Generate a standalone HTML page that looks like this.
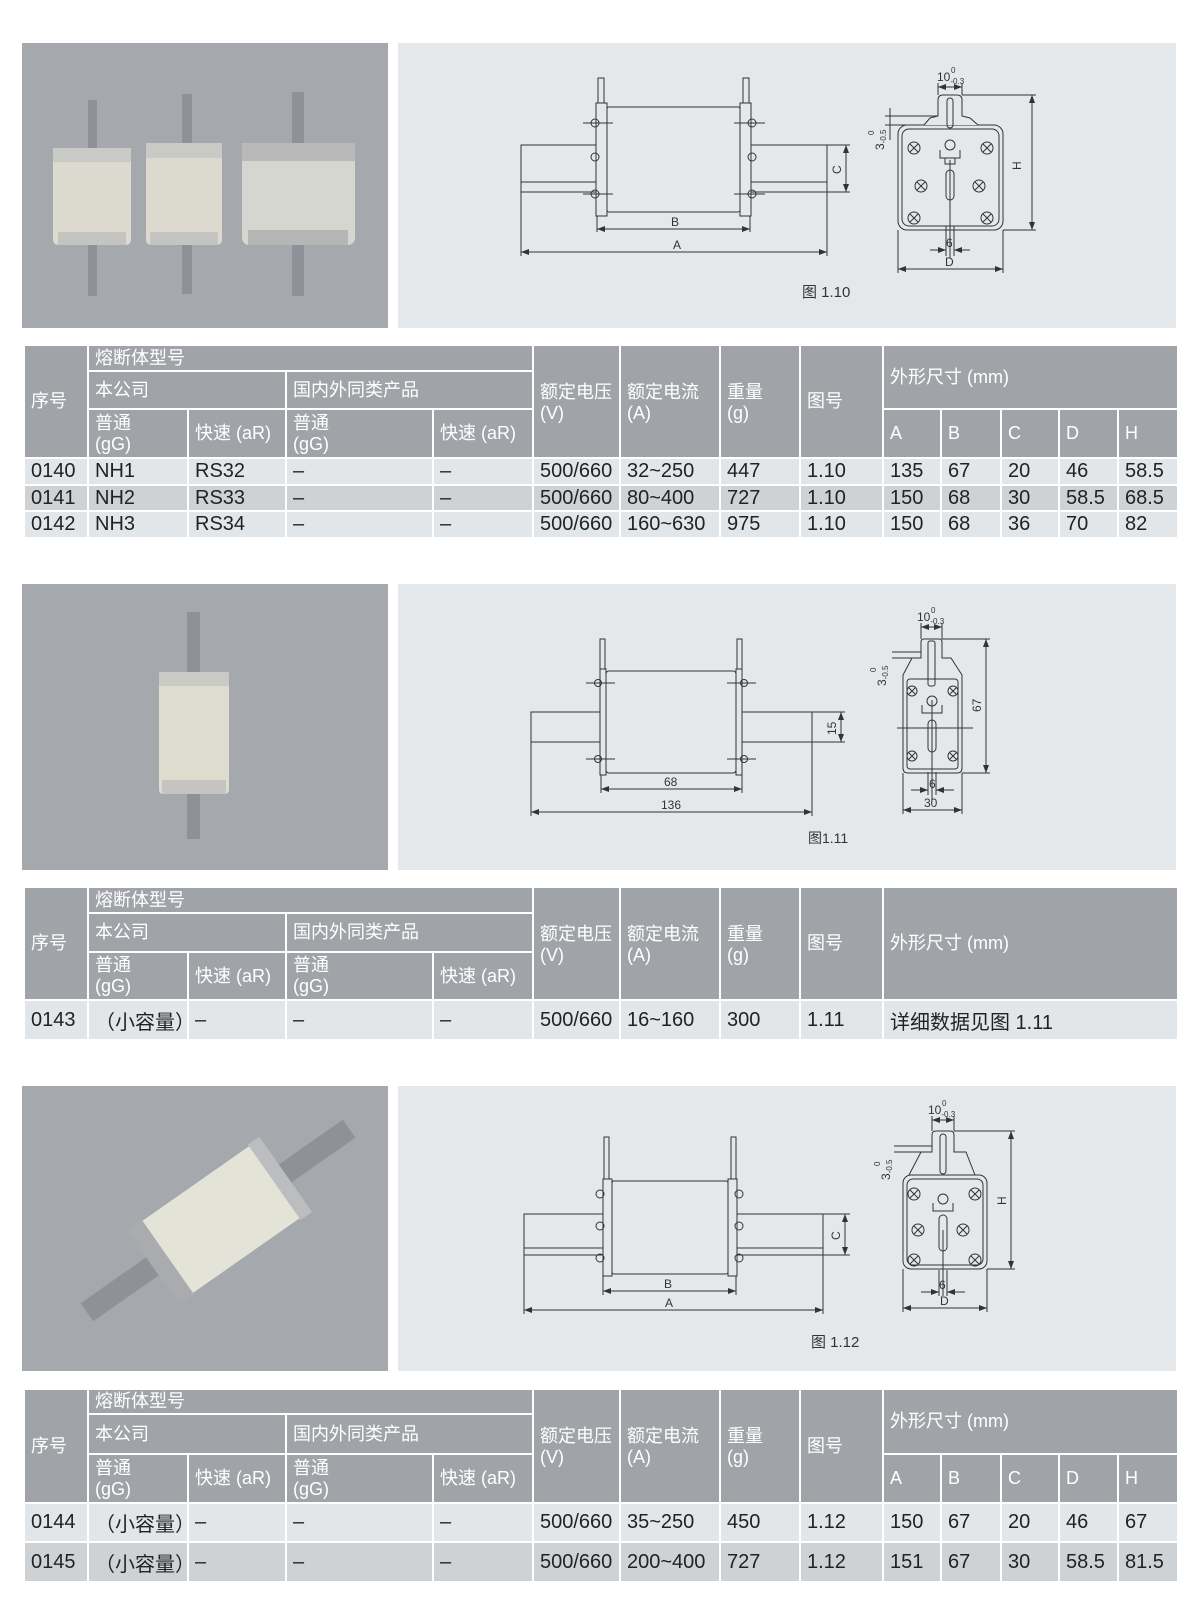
<!DOCTYPE html>
<html><head><meta charset="utf-8"><style>
body{margin:0;background:#fff;width:1200px;height:1601px;position:relative;overflow:hidden;font-family:"Liberation Sans","Noto Sans CJK SC",sans-serif}
.p{position:absolute}
table{position:absolute;left:23px;width:1154px;border-collapse:collapse;table-layout:fixed}
td{border:2px solid #fff;padding:0 0 0 6px;overflow:hidden;white-space:nowrap}
.h td{background:#a0a4a9;color:#fff;font-size:18px;line-height:21px}
.l td{background:#e3e6e8;color:#222;font-size:20px}
.d td{background:#ced2d5;color:#222;font-size:20px}
.t{vertical-align:top;padding-top:3px}
</style></head><body>
<div class="p" style="left:22px;top:43px;width:366px;height:285px;background:#a5a9ad"></div>
<div class="p" style="left:398px;top:43px;width:778px;height:285px;background:#e5e8ea"></div>
<div class="p" style="left:22px;top:584px;width:366px;height:286px;background:#a5a9ad"></div>
<div class="p" style="left:398px;top:584px;width:778px;height:286px;background:#e5e8ea"></div>
<div class="p" style="left:22px;top:1086px;width:366px;height:285px;background:#a5a9ad"></div>
<div class="p" style="left:398px;top:1086px;width:778px;height:285px;background:#e5e8ea"></div>

<svg class="p" style="left:0;top:0" width="1200" height="1601" font-family="Liberation Sans, Noto Sans CJK SC, sans-serif">
<defs><marker id="a" viewBox="0 0 8 6" refX="8" refY="3" markerWidth="8" markerHeight="6" orient="auto-start-reverse"><path d="M0,0L8,3L0,6z" fill="#333"/></marker></defs>
<g>
<rect x="88" y="100" width="9" height="196" fill="#8e9298"/><rect x="53" y="148" width="78" height="97" rx="5" fill="#dcdace"/><rect x="53" y="148" width="78" height="14" fill="#c9c9c6"/><rect x="58" y="232" width="68" height="13" fill="#c4c4c0"/>
<rect x="182" y="94" width="10" height="200" fill="#8e9298"/><rect x="146" y="143" width="76" height="102" rx="5" fill="#dcdace"/><rect x="146" y="143" width="76" height="15" fill="#c9c9c6"/><rect x="150" y="232" width="68" height="13" fill="#c4c4c0"/>
<rect x="292" y="92" width="12" height="204" fill="#8e9298"/><rect x="242" y="143" width="113" height="102" rx="7" fill="#d6d6d0"/><rect x="242" y="143" width="113" height="18" fill="#b8b9b8"/><rect x="248" y="230" width="100" height="15" fill="#b5b6b5"/>
<rect x="187" y="612" width="13" height="227" fill="#8e9298"/><rect x="159" y="672" width="70" height="122" rx="4" fill="#dedccf"/><rect x="159" y="672" width="70" height="14" fill="#c9c9c6"/><rect x="162" y="780" width="64" height="14" fill="#c4c4c0"/>
<g transform="rotate(-35 215 1225)"><rect x="60" y="1212" width="320" height="22" fill="#8e9298"/><rect x="150" y="1180" width="145" height="88" rx="5" fill="#e3e3d8"/><rect x="140" y="1178" width="18" height="92" fill="#a9abae"/><rect x="288" y="1178" width="14" height="92" fill="#bbbdbf"/></g>
</g>
<g fill="none" stroke="#333" stroke-width="1">
<rect x="521" y="145" width="306" height="47"/><line x1="521" y1="182" x2="827" y2="182"/>
<rect x="598" y="78" width="6" height="30" fill="#e5e8ea"/><rect x="743" y="78" width="6" height="30" fill="#e5e8ea"/>
<rect x="596" y="103" width="11" height="113" fill="#e5e8ea"/><rect x="740" y="103" width="11" height="113" fill="#e5e8ea"/>
<rect x="607" y="107" width="133" height="105" rx="2" fill="#e6e9eb"/>
<circle cx="595" cy="123" r="4"/><circle cx="595" cy="157" r="4"/><circle cx="595" cy="194" r="4"/><circle cx="752" cy="123" r="4"/><circle cx="752" cy="157" r="4"/><circle cx="752" cy="194" r="4"/>
<path d="M583,123H613M583,194H613M734,123H765M734,194H765"/>
<path d="M597,216V232M750,216V232M521,192V256M827,192V256M827,145H850M827,192H850"/>
<line x1="597" y1="229" x2="750" y2="229" marker-start="url(#a)" marker-end="url(#a)"/>
<line x1="521" y1="252" x2="827" y2="252" marker-start="url(#a)" marker-end="url(#a)"/>
<line x1="846" y1="145" x2="846" y2="192" marker-start="url(#a)" marker-end="url(#a)"/>
<rect x="898" y="125" width="105" height="105" rx="9" fill="#e5e8ea"/><rect x="902" y="129" width="97" height="97" rx="7"/>
<path d="M924,125L930,118L938,116V100Q938,95 943,95H957Q962,95 962,100V116L970,118L978,125" fill="#e5e8ea"/>
<rect x="947" y="98" width="6" height="30" rx="3"/>
<circle cx="914" cy="148" r="6"/><circle cx="987" cy="148" r="6"/><circle cx="921" cy="186" r="6"/><circle cx="979" cy="186" r="6"/><circle cx="914" cy="218" r="6"/><circle cx="987" cy="218" r="6"/>
<path d="M910,144l8,8M918,144l-8,8M983,144l8,8M991,144l-8,8M917,182l8,8M925,182l-8,8M975,182l8,8M983,182l-8,8M910,214l8,8M918,214l-8,8M983,214l8,8M991,214l-8,8"/>
<circle cx="950" cy="145" r="5"/><path d="M940,150v8h20v-8M945,158v6h10v-6"/><rect x="946" y="170" width="8" height="30" rx="4"/>
<path d="M950,160V258M946,226V256M954,226V256M938,95V83M962,95V83M962,95H1036M1003,230H1036M898,230V273M1003,230V273M885,116H938M885,125H924"/>
<line x1="1032" y1="95" x2="1032" y2="230" marker-start="url(#a)" marker-end="url(#a)"/>
<line x1="898" y1="269" x2="1003" y2="269" marker-start="url(#a)" marker-end="url(#a)"/>
<line x1="938" y1="87" x2="962" y2="87" marker-start="url(#a)" marker-end="url(#a)"/>
<line x1="930" y1="250" x2="946" y2="250" marker-end="url(#a)"/><line x1="970" y1="250" x2="954" y2="250" marker-end="url(#a)"/>
<line x1="890" y1="108" x2="890" y2="140"/>
<rect x="531" y="712" width="281" height="30"/>
<rect x="600" y="639" width="5" height="40" fill="#e5e8ea"/><rect x="737" y="639" width="5" height="40" fill="#e5e8ea"/>
<rect x="600" y="669" width="6" height="106" fill="#e5e8ea"/><rect x="736" y="669" width="6" height="106" fill="#e5e8ea"/>
<rect x="606" y="671" width="130" height="102" rx="3" fill="#e6e9eb"/>
<circle cx="598" cy="683" r="3.5"/><circle cx="598" cy="759" r="3.5"/><circle cx="744" cy="683" r="3.5"/><circle cx="744" cy="759" r="3.5"/>
<path d="M586,683H615M586,759H615M727,683H756M727,759H756M601,775V793M742,775V793M531,742V816M812,742V816M812,712H845M812,742H845"/>
<line x1="601" y1="789" x2="742" y2="789" marker-start="url(#a)" marker-end="url(#a)"/>
<line x1="531" y1="812" x2="812" y2="812" marker-start="url(#a)" marker-end="url(#a)"/>
<line x1="841" y1="712" x2="841" y2="742" marker-start="url(#a)" marker-end="url(#a)"/>
<path d="M903,675L912,658H921V642Q921,639 924,639H939Q942,639 942,642V658H951L962,675V768Q962,773 957,773H908Q903,773 903,768Z" fill="#e5e8ea"/>
<rect x="907" y="679" width="51" height="90" rx="3"/><rect x="928" y="641" width="7" height="45" rx="2"/>
<circle cx="912" cy="691" r="5"/><circle cx="953" cy="691" r="5"/><circle cx="912" cy="756" r="5"/><circle cx="953" cy="756" r="5"/>
<path d="M909,688l6,6M915,688l-6,6M950,688l6,6M956,688l-6,6M909,753l6,6M915,753l-6,6M950,753l6,6M956,753l-6,6"/>
<circle cx="932" cy="701" r="5"/><path d="M922,705v8h20v-8"/><rect x="928" y="720" width="8" height="32" rx="4"/>
<path d="M897,728H973M932,700V800M928,772V795M936,772V795M921,639V623M942,639V623M942,639H990M962,773H990M903,773V814M962,773V814M892,652H921M892,658H912"/>
<line x1="986" y1="639" x2="986" y2="773" marker-start="url(#a)" marker-end="url(#a)"/>
<line x1="903" y1="810" x2="962" y2="810" marker-start="url(#a)" marker-end="url(#a)"/>
<line x1="921" y1="627" x2="942" y2="627" marker-start="url(#a)" marker-end="url(#a)"/>
<line x1="911" y1="790" x2="928" y2="790" marker-end="url(#a)"/><line x1="954" y1="790" x2="936" y2="790" marker-end="url(#a)"/>
<rect x="524" y="1214" width="299" height="41"/><line x1="524" y1="1248" x2="823" y2="1248"/>
<rect x="604" y="1137" width="5" height="50" fill="#e5e8ea"/><rect x="731" y="1137" width="5" height="50" fill="#e5e8ea"/>
<rect x="603" y="1179" width="9" height="97" fill="#e5e8ea"/><rect x="728" y="1179" width="9" height="97" fill="#e5e8ea"/>
<rect x="612" y="1181" width="116" height="93" rx="2" fill="#e6e9eb"/>
<circle cx="600" cy="1194" r="4"/><circle cx="600" cy="1226" r="4"/><circle cx="600" cy="1258" r="4"/><circle cx="739" cy="1194" r="4"/><circle cx="739" cy="1226" r="4"/><circle cx="739" cy="1258" r="4"/>
<path d="M603,1276V1295M736,1276V1295M524,1255V1314M823,1255V1314M823,1214H850M823,1255H850"/>
<line x1="603" y1="1291" x2="736" y2="1291" marker-start="url(#a)" marker-end="url(#a)"/>
<line x1="524" y1="1310" x2="823" y2="1310" marker-start="url(#a)" marker-end="url(#a)"/>
<line x1="845" y1="1214" x2="845" y2="1255" marker-start="url(#a)" marker-end="url(#a)"/>
<path d="M909,1175L921,1152H932V1135Q932,1131 936,1131H950Q954,1131 954,1135V1152H966L975,1175" fill="#e5e8ea"/>
<rect x="903" y="1175" width="84" height="94" rx="8" fill="#e5e8ea"/><rect x="907" y="1179" width="76" height="86" rx="6"/>
<rect x="940" y="1134" width="6" height="40" rx="3"/>
<circle cx="914" cy="1194" r="6"/><circle cx="975" cy="1194" r="6"/><circle cx="918" cy="1230" r="6"/><circle cx="963" cy="1230" r="6"/><circle cx="914" cy="1260" r="6"/><circle cx="975" cy="1260" r="6"/>
<path d="M910,1190l8,8M918,1190l-8,8M971,1190l8,8M979,1190l-8,8M914,1226l8,8M922,1226l-8,8M959,1226l8,8M967,1226l-8,8M910,1256l8,8M918,1256l-8,8M971,1256l8,8M979,1256l-8,8"/>
<circle cx="943" cy="1199" r="5"/><path d="M933,1203v8h20v-8"/><rect x="939" y="1215" width="8" height="36" rx="4"/>
<path d="M943,1230V1296M939,1270V1296M947,1270V1296M932,1131V1116M954,1131V1116M954,1131H1015M987,1269H1015M903,1269V1312M987,1269V1312M894,1146H932M894,1152H921"/>
<line x1="1011" y1="1131" x2="1011" y2="1269" marker-start="url(#a)" marker-end="url(#a)"/>
<line x1="903" y1="1308" x2="987" y2="1308" marker-start="url(#a)" marker-end="url(#a)"/>
<line x1="932" y1="1120" x2="954" y2="1120" marker-start="url(#a)" marker-end="url(#a)"/>
<line x1="921" y1="1292" x2="939" y2="1292" marker-end="url(#a)"/><line x1="965" y1="1292" x2="947" y2="1292" marker-end="url(#a)"/>
</g>
<g fill="#333" font-size="12">
<text x="671" y="226">B</text><text x="673" y="249">A</text><text transform="translate(841,174) rotate(-90)">C</text>
<text x="945" y="266">D</text><text x="946" y="247">6</text><text transform="translate(1021,170) rotate(-90)">H</text>
<text x="937" y="81">10<tspan font-size="8" dy="3">-0.3</tspan></text><text x="951" y="73" font-size="8">0</text>
<text transform="translate(884,150) rotate(-90)">3<tspan font-size="8" dy="2">-0.5</tspan></text><text transform="translate(874,135) rotate(-90)" font-size="8">0</text>
<text x="802" y="297" font-size="15">图 1.10</text>
<text x="664" y="786">68</text><text x="661" y="809">136</text><text transform="translate(836,735) rotate(-90)">15</text>
<text x="924" y="807">30</text><text x="929" y="788">6</text><text transform="translate(981,712) rotate(-90)">67</text>
<text x="917" y="621">10<tspan font-size="8" dy="3">-0.3</tspan></text><text x="931" y="613" font-size="8">0</text>
<text transform="translate(886,686) rotate(-90)">3<tspan font-size="8" dy="2">-0.5</tspan></text><text transform="translate(876,672) rotate(-90)" font-size="8">0</text>
<text x="808" y="843" font-size="14">图1.11</text>
<text x="664" y="1288">B</text><text x="665" y="1307">A</text><text transform="translate(840,1240) rotate(-90)">C</text>
<text x="940" y="1305">D</text><text x="939" y="1289">6</text><text transform="translate(1006,1205) rotate(-90)">H</text>
<text x="928" y="1114">10<tspan font-size="8" dy="3">-0.3</tspan></text><text x="942" y="1106" font-size="8">0</text>
<text transform="translate(890,1180) rotate(-90)">3<tspan font-size="8" dy="2">-0.5</tspan></text><text transform="translate(880,1166) rotate(-90)" font-size="8">0</text>
<text x="811" y="1347" font-size="15">图 1.12</text>
</g>
</svg>

<table style="top:344px">
<colgroup><col width="64"><col width="100"><col width="98"><col width="147"><col width="100"><col width="87"><col width="100"><col width="80"><col width="83"><col width="58"><col width="60"><col width="58"><col width="59"><col width="60"></colgroup>
<tr class="h" style="height:26px"><td rowspan="3">序号</td><td colspan="4">熔断体型号</td><td rowspan="3" class="t" style="padding-top:36px">额定电压<br>(V)</td><td rowspan="3" class="t" style="padding-top:36px">额定电流<br>(A)</td><td rowspan="3" class="t" style="padding-top:36px">重量<br>(g)</td><td rowspan="3">图号</td><td colspan="5" rowspan="2">外形尺寸 (mm)</td></tr>
<tr class="h" style="height:38px"><td colspan="2">本公司</td><td colspan="2">国内外同类产品</td></tr>
<tr class="h" style="height:49px"><td>普通<br>(gG)</td><td>快速 (aR)</td><td>普通<br>(gG)</td><td>快速 (aR)</td><td>A</td><td>B</td><td>C</td><td>D</td><td>H</td></tr>
<tr class="l" style="height:27px"><td>0140</td><td>NH1</td><td>RS32</td><td>–</td><td>–</td><td>500/660</td><td>32~250</td><td>447</td><td>1.10</td><td>135</td><td>67</td><td>20</td><td>46</td><td>58.5</td></tr>
<tr class="d" style="height:26px"><td>0141</td><td>NH2</td><td>RS33</td><td>–</td><td>–</td><td>500/660</td><td>80~400</td><td>727</td><td>1.10</td><td>150</td><td>68</td><td>30</td><td>58.5</td><td>68.5</td></tr>
<tr class="l" style="height:27px"><td>0142</td><td>NH3</td><td>RS34</td><td>–</td><td>–</td><td>500/660</td><td>160~630</td><td>975</td><td>1.10</td><td>150</td><td>68</td><td>36</td><td>70</td><td>82</td></tr>
</table>

<table style="top:886px">
<colgroup><col width="64"><col width="100"><col width="98"><col width="147"><col width="100"><col width="87"><col width="100"><col width="80"><col width="83"><col width="295"></colgroup>
<tr class="h" style="height:26px"><td rowspan="3">序号</td><td colspan="4">熔断体型号</td><td rowspan="3" class="t" style="padding-top:36px">额定电压<br>(V)</td><td rowspan="3" class="t" style="padding-top:36px">额定电流<br>(A)</td><td rowspan="3" class="t" style="padding-top:36px">重量<br>(g)</td><td rowspan="3">图号</td><td rowspan="3">外形尺寸 (mm)</td></tr>
<tr class="h" style="height:39px"><td colspan="2">本公司</td><td colspan="2">国内外同类产品</td></tr>
<tr class="h" style="height:48px"><td>普通<br>(gG)</td><td>快速 (aR)</td><td>普通<br>(gG)</td><td>快速 (aR)</td></tr>
<tr class="l" style="height:40px"><td>0143</td><td>（小容量）</td><td>–</td><td>–</td><td>–</td><td>500/660</td><td>16~160</td><td>300</td><td>1.11</td><td>详细数据见图 1.11</td></tr>
</table>

<table style="top:1388px">
<colgroup><col width="64"><col width="100"><col width="98"><col width="147"><col width="100"><col width="87"><col width="100"><col width="80"><col width="83"><col width="58"><col width="60"><col width="58"><col width="59"><col width="60"></colgroup>
<tr class="h" style="height:25px"><td rowspan="3">序号</td><td colspan="4">熔断体型号</td><td rowspan="3" class="t" style="padding-top:36px">额定电压<br>(V)</td><td rowspan="3" class="t" style="padding-top:36px">额定电流<br>(A)</td><td rowspan="3" class="t" style="padding-top:36px">重量<br>(g)</td><td rowspan="3">图号</td><td colspan="5" rowspan="2">外形尺寸 (mm)</td></tr>
<tr class="h" style="height:40px"><td colspan="2">本公司</td><td colspan="2">国内外同类产品</td></tr>
<tr class="h" style="height:49px"><td>普通<br>(gG)</td><td>快速 (aR)</td><td>普通<br>(gG)</td><td>快速 (aR)</td><td>A</td><td>B</td><td>C</td><td>D</td><td>H</td></tr>
<tr class="l" style="height:39px"><td>0144</td><td>（小容量）</td><td>–</td><td>–</td><td>–</td><td>500/660</td><td>35~250</td><td>450</td><td>1.12</td><td>150</td><td>67</td><td>20</td><td>46</td><td>67</td></tr>
<tr class="d" style="height:40px"><td>0145</td><td>（小容量）</td><td>–</td><td>–</td><td>–</td><td>500/660</td><td>200~400</td><td>727</td><td>1.12</td><td>151</td><td>67</td><td>30</td><td>58.5</td><td>81.5</td></tr>
</table>
</body></html>
